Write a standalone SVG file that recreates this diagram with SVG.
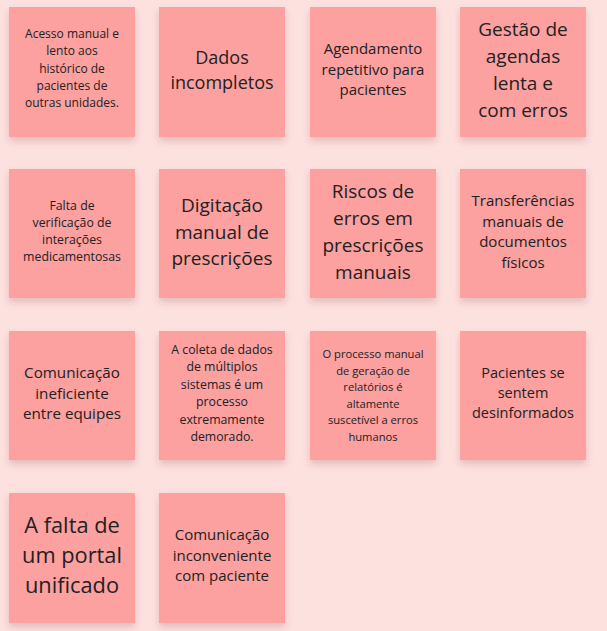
<svg xmlns="http://www.w3.org/2000/svg" width="607" height="631" viewBox="0 0 607 631">
<defs>
<filter id="sh" x="-20%" y="-20%" width="140%" height="150%">
<feDropShadow dx="0" dy="4" stdDeviation="3.5" flood-color="#7a3030" flood-opacity="0.22"/>
</filter>
<style>
.n{fill:#fca0a0;filter:url(#sh)}
text{font-family:"Open Sans","Noto Sans","Liberation Sans",sans-serif;fill:#222;text-anchor:middle}
</style>
</defs>
<rect width="607" height="631" fill="#fde1df"/>
<g id="note1"><rect class="n" x="9" y="7" width="126" height="130"/>
<text font-size="12"><tspan x="72" y="38">Acesso manual e</tspan><tspan x="72" y="55.3">lento aos</tspan><tspan x="72" y="72.6">histórico de</tspan><tspan x="72" y="89.9">pacientes de</tspan><tspan x="72" y="107.2">outras unidades.</tspan></text></g>
<g id="note2"><rect class="n" x="159" y="7" width="126" height="130"/>
<text font-size="18"><tspan x="222" y="64">Dados</tspan><tspan x="222" y="89">incompletos</tspan></text></g>
<g id="note3"><rect class="n" x="310" y="7" width="126" height="130"/>
<text font-size="15"><tspan x="373" y="54">Agendamento</tspan><tspan x="373" y="74.5">repetitivo para</tspan><tspan x="373" y="95">pacientes</tspan></text></g>
<g id="note4"><rect class="n" x="460" y="7" width="126" height="130"/>
<text font-size="19"><tspan x="523" y="36">Gestão de</tspan><tspan x="523" y="63">agendas</tspan><tspan x="523" y="90">lenta e</tspan><tspan x="523" y="117">com erros</tspan></text></g>
<g id="note5"><rect class="n" x="9" y="169" width="126" height="129"/>
<text font-size="12.3"><tspan x="72" y="210">Falta de</tspan><tspan x="72" y="227">verificação de</tspan><tspan x="72" y="244">interações</tspan><tspan x="72" y="261">medicamentosas</tspan></text></g>
<g id="note6"><rect class="n" x="159" y="169" width="126" height="129"/>
<text font-size="19"><tspan x="222" y="212">Digitação</tspan><tspan x="222" y="238.5">manual de</tspan><tspan x="222" y="265">prescrições</tspan></text></g>
<g id="note7"><rect class="n" x="310" y="169" width="126" height="129"/>
<text font-size="19"><tspan x="373" y="198">Riscos de</tspan><tspan x="373" y="225">erros em</tspan><tspan x="373" y="252">prescrições</tspan><tspan x="373" y="279">manuais</tspan></text></g>
<g id="note8"><rect class="n" x="460" y="169" width="126" height="129"/>
<text font-size="15"><tspan x="523" y="206">Transferências</tspan><tspan x="523" y="226.7">manuais de</tspan><tspan x="523" y="247.4">documentos</tspan><tspan x="523" y="268">físicos</tspan></text></g>
<g id="note9"><rect class="n" x="9" y="331" width="126" height="129"/>
<text font-size="15.2"><tspan x="72" y="378">Comunicação</tspan><tspan x="72" y="398.5">ineficiente</tspan><tspan x="72" y="419">entre equipes</tspan></text></g>
<g id="note10"><rect class="n" x="159" y="331" width="126" height="129"/>
<text font-size="12.3"><tspan x="222" y="354">A coleta de dados</tspan><tspan x="222" y="371.4">de múltiplos</tspan><tspan x="222" y="388.8">sistemas é um</tspan><tspan x="222" y="406.2">processo</tspan><tspan x="222" y="423.6">extremamente</tspan><tspan x="222" y="441">demorado.</tspan></text></g>
<g id="note11"><rect class="n" x="310" y="331" width="126" height="129"/>
<text font-size="11.2"><tspan x="373" y="358">O processo manual</tspan><tspan x="373" y="374.6">de geração de</tspan><tspan x="373" y="391.2">relatórios é</tspan><tspan x="373" y="407.8">altamente</tspan><tspan x="373" y="424.4">suscetível a erros</tspan><tspan x="373" y="441">humanos</tspan></text></g>
<g id="note12"><rect class="n" x="460" y="331" width="126" height="129"/>
<text font-size="14.5"><tspan x="523" y="378">Pacientes se</tspan><tspan x="523" y="398">sentem</tspan><tspan x="523" y="418">desinformados</tspan></text></g>
<g id="note13"><rect class="n" x="9" y="493" width="126" height="130"/>
<text font-size="21.8"><tspan x="72" y="533">A falta de</tspan><tspan x="72" y="563">um portal</tspan><tspan x="72" y="593">unificado</tspan></text></g>
<g id="note14"><rect class="n" x="159" y="493" width="126" height="130"/>
<text font-size="15"><tspan x="222" y="540">Comunicação</tspan><tspan x="222" y="560.5">inconveniente</tspan><tspan x="222" y="581">com paciente</tspan></text></g>
<g id="connectors"/>
</svg>
